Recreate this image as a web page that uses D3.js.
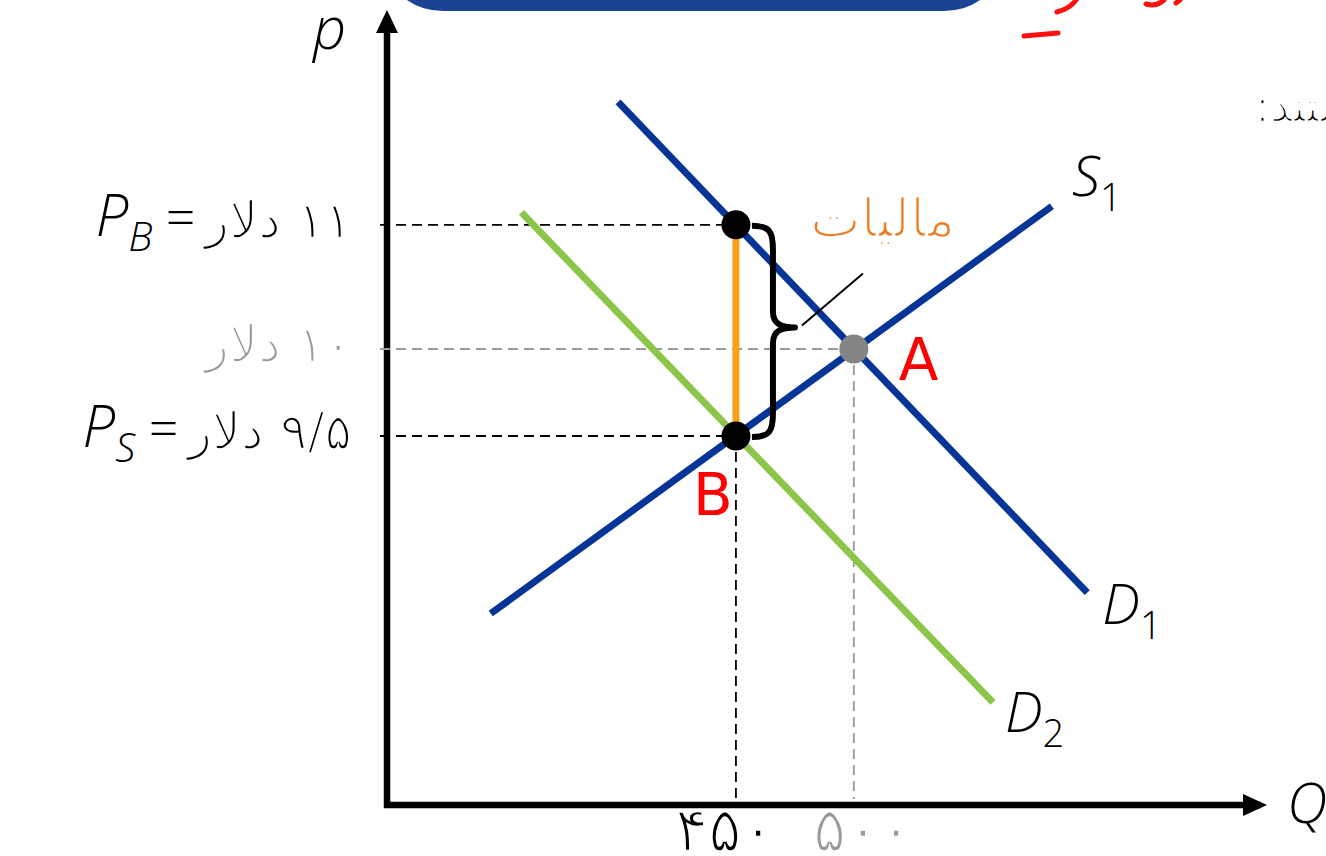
<!DOCTYPE html>
<html>
<head>
<meta charset="utf-8">
<script src="https://cdn.jsdelivr.net/npm/d3@7/dist/d3.min.js"></script>
<style>
  body { margin: 0; background: #fff; }
  svg { display: block; }
  .lat { font-family: "Open Sans", "DejaVu Sans", sans-serif; font-style: italic; font-weight: 300; }
  /* only DejaVu carries the Persian glyphs; a white stroke thins them like the light face in the sketch */
  .fa { font-family: "DejaVu Sans", sans-serif; stroke: #fff; stroke-width: 2.4px; }
</style>
</head>
<body>
<script>
// quantity axis: drawn extent and the two marked quantities
const quantityExtent = [302, 671];
const quantityTicks = [450, 500];
const quantityLabels = ["۴۵۰", "۵۰۰"];

// price axis (the sketch is not to scale, so the scale has break points)
const priceBreaks = [7.38, 9.5, 10, 12.65];
const priceTicks = [11, 10, 9.5];
const priceLabels = ["۱۱ دلار", "۱۰ دلار", "۹/۵ دلار"];
const priceSymbols = ["B", null, "S"];

// curve end points [q, p]
const supplyS1 = [[346, 8.48], [584, 11.15]];
const demandD1 = [[400, 11.99], [599, 8.60]];
const demandD2 = [[359, 11.10], [559, 7.97]];

// marked points
const pointA = [500, 10];
const buyersPoint = [450, 11];
const pointB = [450, 9.5];

const width = 1326, height = 856;

const x = d3.scaleLinear().domain(quantityExtent).range([387, 1257]);
const y = d3.scaleLinear().domain(priceBreaks).range([805, 436, 349, 20]);

const blue = "#063597", green = "#8dc54b", orange = "#f7a01b", grey = "#9a9a9a";

const svg = d3.select("body")
    .append("svg")
    .attr("width", width)
    .attr("height", height);

const line = d3.line().x(d => x(d[0])).y(d => y(d[1]));

/**
 * header bits cut off at the top of the slide
 */
svg.append("rect")
    .attr("x", 393).attr("y", -60)
    .attr("width", 601).attr("height", 71)
    .attr("rx", 50)
    .attr("fill", "#1b4594");

const scribble = ["M1057,12 Q1072,8 1078,-3", "M1024,36 L1058,33", "M1146,4 Q1156,7 1164,0", "M1176,3 L1180,0"];
svg.selectAll(".scribble")
    .data(scribble)
    .enter().append("path")
    .attr("d", d => d)
    .attr("fill", "none")
    .attr("stroke", "#ff1010")
    .attr("stroke-width", 5)
    .attr("stroke-linecap", "round");

svg.append("text")
    .attr("class", "fa")
    .attr("x", 1255).attr("y", 122)
    .attr("font-size", 44)
    .text("\u202Bهستند:\u202C");

/**
 * Axes
 */
const x0 = x(quantityExtent[0]), y0 = y(priceBreaks[0]);
const xEnd = x(quantityExtent[1]), yEnd = y(priceBreaks[priceBreaks.length - 1]);

svg.append("path")
    .attr("d", `M${x0},${y0}H${xEnd}M${x0},${y0}V${yEnd}`)
    .attr("stroke", "#000")
    .attr("stroke-width", 6.5)
    .attr("stroke-linecap", "square")
    .attr("fill", "none");

svg.append("path")
    .attr("d", `M${xEnd + 10},${y0}L${xEnd - 14},${y0 - 11}L${xEnd - 14},${y0 + 11}Z`)
    .attr("fill", "#000");
svg.append("path")
    .attr("d", `M${x0},${yEnd - 10}L${x0 - 11},${yEnd + 13}L${x0 + 11},${yEnd + 13}Z`)
    .attr("fill", "#000");

svg.append("text").attr("class", "lat")
    .attr("x", x0 - 74).attr("y", 49)
    .attr("font-size", 58)
    .text("p");
svg.append("text").attr("class", "lat")
    .attr("x", xEnd + 30).attr("y", y0 + 18)
    .attr("font-size", 56)
    .text("Q");

/**
 * Guide lines
 */
const guides = [
    { q: buyersPoint[0], p: buyersPoint[1], color: "#000", down: false },
    { q: pointB[0], p: pointB[1], color: "#000", down: true },
    { q: pointA[0], p: pointA[1], color: grey, down: true }
];

guides.forEach(g => {
    svg.append("line")
        .attr("x1", x0 - 7).attr("x2", x(g.q))
        .attr("y1", y(g.p)).attr("y2", y(g.p))
        .attr("stroke", g.color)
        .attr("stroke-width", 1.8)
        .attr("stroke-dasharray", "10,6");
    if (g.down) {
        svg.append("line")
            .attr("x1", x(g.q)).attr("x2", x(g.q))
            .attr("y1", y(g.p)).attr("y2", y0 - 6)
            .attr("stroke", g.color)
            .attr("stroke-width", 1.8)
            .attr("stroke-dasharray", "10,6");
    }
});

/**
 * Curves
 */
const curves = [
    { pts: supplyS1, color: blue },
    { pts: demandD1, color: blue },
    { pts: demandD2, color: green }
];

svg.selectAll(".curve")
    .data(curves)
    .enter().append("path")
    .attr("class", "curve")
    .attr("d", d => line(d.pts))
    .attr("stroke", d => d.color)
    .attr("stroke-width", 7)
    .attr("fill", "none");

// tax wedge
svg.append("path")
    .attr("d", line([buyersPoint, pointB]))
    .attr("stroke", orange)
    .attr("stroke-width", 7);

// brace
const bx = x(buyersPoint[0]) + 16, bTop = y(buyersPoint[1]) + 1, bBot = y(pointB[1]) + 1;
const bMid = (bTop + bBot) / 2 - 4;
svg.append("path")
    .attr("d", `M${bx},${bTop} C${bx + 18},${bTop} ${bx + 21},${bTop + 6} ${bx + 21},${bTop + 24}
        L${bx + 21},${bMid - 16} C${bx + 21},${bMid - 3} ${bx + 30},${bMid} ${bx + 43},${bMid}
        C${bx + 30},${bMid} ${bx + 21},${bMid + 3} ${bx + 21},${bMid + 16}
        L${bx + 21},${bBot - 24} C${bx + 21},${bBot - 6} ${bx + 18},${bBot} ${bx},${bBot}`)
    .attr("fill", "none")
    .attr("stroke", "#000")
    .attr("stroke-width", 6)
    .attr("stroke-linejoin", "round");

svg.append("line")
    .attr("x1", bx + 50).attr("y1", bMid - 2)
    .attr("x2", bx + 111).attr("y2", bMid - 54)
    .attr("stroke", "#000")
    .attr("stroke-width", 2);

svg.append("text")
    .attr("class", "fa")
    .attr("x", bx + 58).attr("y", y(buyersPoint[1]) + 12)
    .attr("font-size", 54)
    .attr("fill", "#ee7d22")
    .text("مالیات");

// points
svg.selectAll(".dot")
    .data([buyersPoint, pointB])
    .enter().append("circle")
    .attr("cx", d => x(d[0]))
    .attr("cy", d => y(d[1]))
    .attr("r", 14.5)
    .attr("fill", "#000");

svg.append("circle")
    .attr("cx", x(pointA[0])).attr("cy", y(pointA[1]))
    .attr("r", 14.5)
    .attr("fill", "#858585");

svg.append("text")
    .attr("x", x(pointA[0]) + 45).attr("y", y(pointA[1]) + 31)
    .attr("font-family", "DejaVu Sans").attr("font-size", 58)
    .attr("fill", "#ff0000")
    .text("A");
svg.append("text")
    .attr("x", x(pointB[0]) - 43).attr("y", y(pointB[1]) + 79)
    .attr("font-family", "DejaVu Sans").attr("font-size", 58)
    .attr("fill", "#ff0000")
    .text("B");

/**
 * curve names
 */
const curveNames = [
    { at: supplyS1[1], name: "S", sub: "1", dx: 20, dy: -10 },
    { at: demandD1[1], name: "D", sub: "1", dx: 15, dy: 31 },
    { at: demandD2[1], name: "D", sub: "2", dx: 12, dy: 30 }
];

curveNames.forEach(c => {
    const t = svg.append("text").attr("class", "lat")
        .attr("x", x(c.at[0]) + c.dx)
        .attr("y", y(c.at[1]) + c.dy)
        .attr("font-size", 56);
    t.append("tspan").text(c.name);
    t.append("tspan").attr("font-size", 38).attr("dy", 15).attr("font-style", "normal").text(c.sub);
});

/**
 * price labels
 */
priceTicks.forEach((p, i) => {
    const fa = svg.append("text")
        .attr("class", "fa")
        .attr("x", 352).attr("y", y(p) + 13)
        .attr("text-anchor", "end")
        .attr("font-size", 51)
        .attr("fill", priceSymbols[i] ? "#000" : grey)
        .text("\u202B" + priceLabels[i] + "\u202C");

    if (priceSymbols[i]) {
        const left = fa.node().getBBox().x;
        const t = svg.append("text")
            .attr("class", "lat")
            .attr("x", left - 6).attr("y", y(p) + 11)
            .attr("text-anchor", "end")
            .attr("font-size", 58);
        t.append("tspan").text("P");
        t.append("tspan").attr("font-size", 40).attr("dy", 15).text(priceSymbols[i]);
        t.append("tspan").attr("font-size", 52).attr("dy", -15).attr("font-style", "normal").text(" =");
    }
});

/**
 * quantity labels
 */
svg.selectAll(".qlabel")
    .data(quantityTicks)
    .enter().append("text")
    .attr("class", "fa")
    .attr("x", (d, i) => x(d) + (i ? 9 : -11))
    .attr("y", y0 + 46)
    .attr("text-anchor", "middle")
    .attr("font-size", 62)
    .attr("letter-spacing", 4)
    .attr("fill", (d, i) => i ? grey : "#000")
    .text((d, i) => quantityLabels[i]);
</script>
</body>
</html>
